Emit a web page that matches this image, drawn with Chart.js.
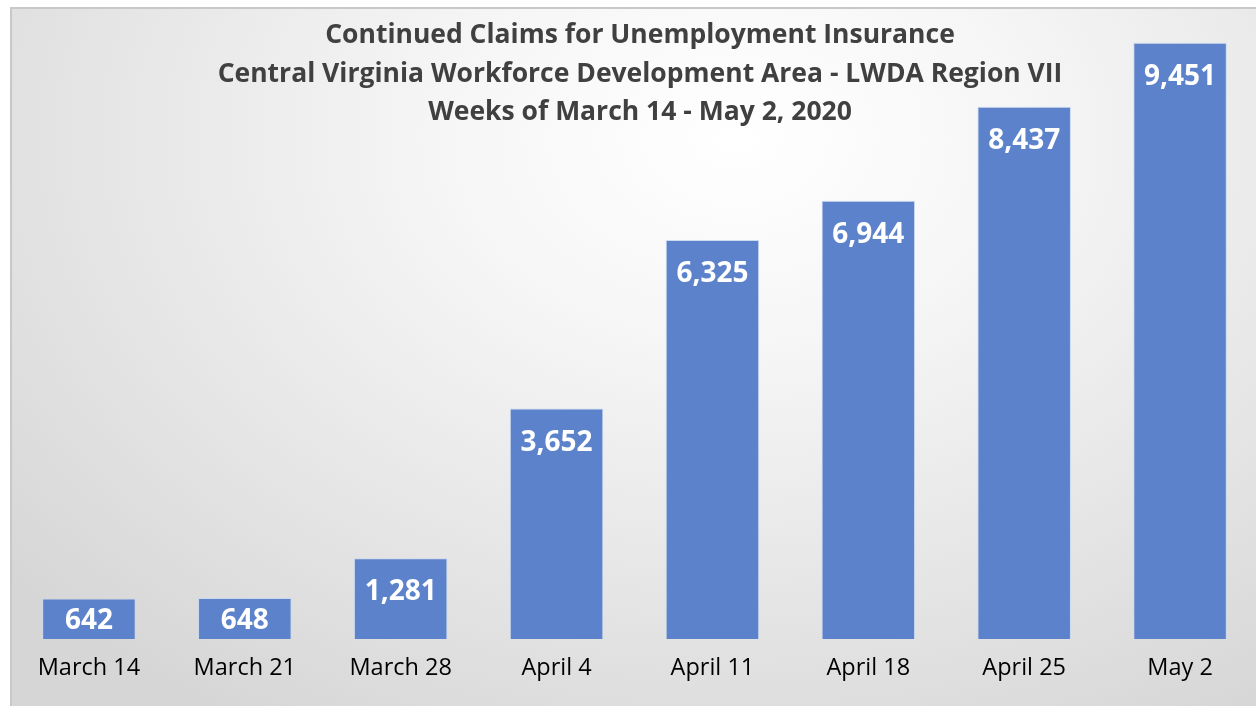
<!DOCTYPE html>
<html lang="en">
<head>
  <meta charset="UTF-8">
  <script src="https://cdn.jsdelivr.net/npm/chart.js"></script>
  <title>Continued Claims for Unemployment Insurance</title>
  <style>
    html, body { margin: 0; padding: 0; width: 1256px; height: 706px; overflow: hidden; background: #fff; }
    #frame {
      position: absolute; left: 10px; top: 7px; width: 1270px; height: 720px;
      border: 2px solid #c8c8c8;
      background: radial-gradient(ellipse 75% 95% at 57% 18%, #ffffff 0%, #f6f6f6 30%, #e4e4e4 70%, #d6d6d6 100%);
    }
    #wrap { position: absolute; left: 11px; top: 0; width: 1247px; height: 706px; }
    #title {
      position: absolute; left: 0; top: 14px; width: 1280px; text-align: center;
      font-family: "Open Sans", sans-serif; font-weight: bold; font-size: 26.5px;
      line-height: 38.5px; color: #404040; pointer-events: none;
    }
  </style>
</head>
<body>
  <div id="frame"></div>
  <div id="wrap"><canvas id="chart" width="1247" height="706"></canvas></div>
  <div id="title">
    Continued Claims for Unemployment Insurance<br>
    Central Virginia Workforce Development Area - LWDA Region VII<br>
    Weeks of March 14 - May 2, 2020
  </div>

<script>
  const weeks = ['March 14', 'March 21', 'March 28', 'April 4', 'April 11', 'April 18', 'April 25', 'May 2']
  const claims = [642, 648, 1281, 3652, 6325, 6944, 8437, 9451]

  // white value labels inside the top of each bar
  const valueLabels = {
    id: 'valueLabels',
    afterDatasetsDraw(chart) {
      const ctx = chart.ctx
      const meta = chart.getDatasetMeta(0)
      ctx.save()
      ctx.fillStyle = '#ffffff'
      ctx.font = 'bold 28px "Open Sans"'
      ctx.textAlign = 'center'
      ctx.textBaseline = 'middle'
      meta.data.forEach((bar, i) => {
        const mid = (bar.y + bar.base) / 2
        const y = Math.min(bar.y + 34, mid + 2)
        ctx.fillText(claims[i].toLocaleString('en-US'), bar.x, y)
      })
      ctx.restore()
    }
  }

  new Chart(document.getElementById('chart'), {
    type: 'bar',
    data: {
      labels: weeks,
      datasets: [{
        data: claims,
        backgroundColor: '#5b82ca',
        borderColor: 'rgba(200,215,240,0.9)',
        borderWidth: 1,
        barPercentage: 0.6,
        categoryPercentage: 1
      }]
    },
    options: {
      responsive: false,
      animation: false,
      devicePixelRatio: 1,
      layout: { padding: { top: 8, bottom: 0, left: 0, right: 0 } },
      plugins: { legend: { display: false }, tooltip: { enabled: false } },
      scales: {
        x: {
          grid: { display: false, drawTicks: false },
          border: { display: false },
          ticks: {
            color: '#000', padding: 15, maxRotation: 0, autoSkip: false,
            font: { family: 'Open Sans', size: 23.5 }
          },
          afterFit(scale) { scale.height = 67 }
        },
        y: { display: false, min: 0, max: 10000 }
      }
    },
    plugins: [valueLabels]
  })
</script>
</body>
</html>
